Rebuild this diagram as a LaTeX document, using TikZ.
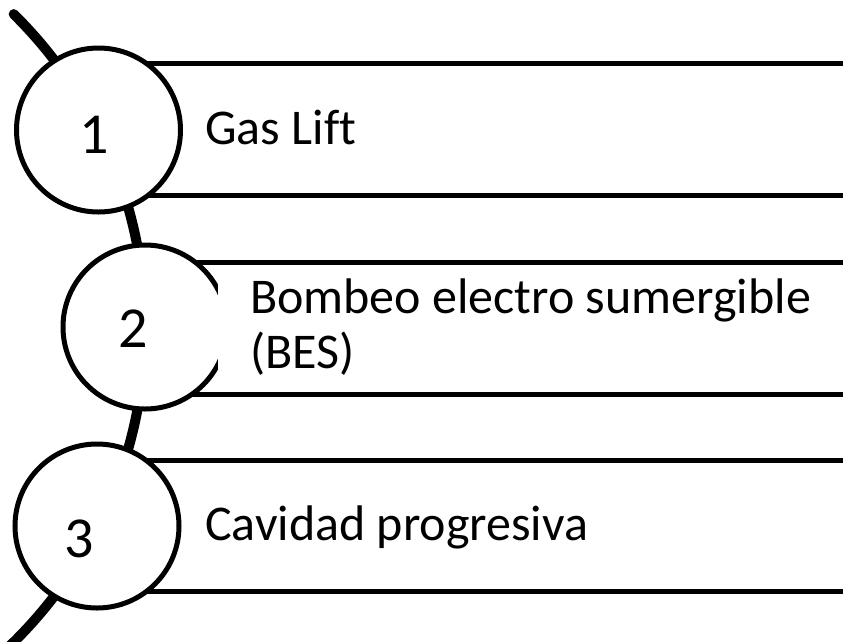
\documentclass[tikz,border=0pt]{standalone}
\usepackage{fontspec}
\setmainfont[Ligatures=NoCommon]{Carlito}
\begin{document}
\begin{tikzpicture}[x=1pt,y=-1pt,
  spine/.style={line width=10pt, line cap=round},
  bandfill/.style={fill=white, draw=none},
  bandline/.style={line width=5pt},
  numcircle/.style={circle, draw=black, line width=5pt, fill=white, minimum size=164pt, inner sep=0pt},
  numtext/.style={font=\fontsize{58}{64}\selectfont, inner sep=0pt, anchor=base},
  itemtext/.style={font=\fontsize{50}{55}\selectfont, inner sep=0pt, anchor=base west, align=left}]
\useasboundingbox (0,0) rectangle (843,641);
\clip (0,0) rectangle (843,641);
% spine arc
\coordinate (arcstart) at (13.7,14.1);
\draw[spine] (arcstart) arc[start angle=-45.4, end angle=46, radius=441];
% bands
\fill[bandfill] (98,63.5) rectangle (860,195);
\draw[bandline] (98,63.5) -- (860,63.5) (98,195) -- (860,195);
\fill[bandfill] (145,262.5) rectangle (860,394.5);
\draw[bandline] (145,262.5) -- (860,262.5) (145,394.5) -- (860,394.5);
\fill[bandfill] (97,460) rectangle (860,591.5);
\draw[bandline] (97,460) -- (860,460) (97,591.5) -- (860,591.5);
% circles
\node[numcircle] (c1) at (98.5,130) {};
\node[numcircle] (c2) at (145,327) {};
\node[numcircle] (c3) at (97,526) {};
% text-box overlap artifact on circle 2
\fill[white] (218,282) rectangle (240,372);
% numbers
\node[numtext] (n1) at (94,153) {1};
\node[numtext] (n2) at (133,347) {2};
\node[numtext] (n3) at (79,557) {3};
% labels
\node[itemtext] (t1) at (205,144) {Gas Lift};
\node[itemtext] (t2) at (250,313) {Bombeo electro sumergible};
\node[itemtext] (t2b) at (250,368) {(BES)};
\node[itemtext] (t3) at (205,540) {Cavidad progresiva};
\end{tikzpicture}
\end{document}
